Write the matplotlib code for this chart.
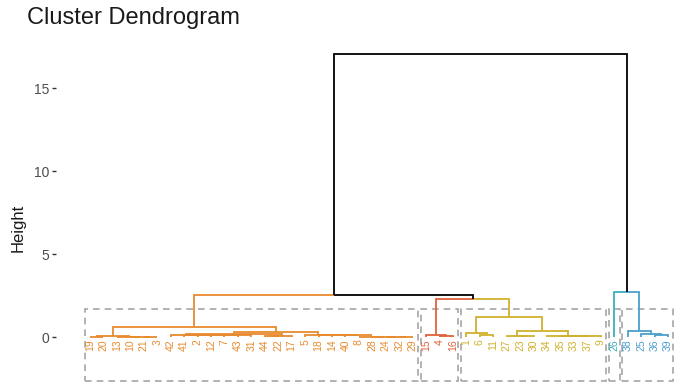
import numpy as np
import matplotlib.pyplot as plt
from matplotlib.patches import Rectangle

plt.rcParams['font.family'] = ['Liberation Sans', 'DejaVu Sans']

# leaf labels in the order they appear left to right
leaf_order = [19, 20, 13, 10, 21, 3, 42, 41, 2, 12, 7, 43, 31, 44, 22, 17, 5, 18, 14, 40,
              8, 28, 24, 32, 29, 15, 4, 16, 1, 6, 11, 27, 23, 30, 34, 35, 33, 37, 9, 26,
              38, 25, 36, 39]

# hclust style merges: negative = observation, positive = earlier merge step (1-based)
merge_a = [-21, -10, -13, -19, 4, -7, -12, 7, -2, -41, -42, -44, 12, 11, -32, -24, -28, -8,
           -40, -14, -18, -5, 14, 5, -4, -15, -6, -1, -23, -27, -35, 31, 32, -34, 30, 28,
           26, 24, -36, -25, -38, -26, 38]
merge_b = [-3, 1, 2, -20, 3, -43, 6, -31, 8, 9, 10, -22, -17, 13, -29, 15, 16, 17,
           18, 19, 20, 21, 22, 23, -16, 25, -11, 27, -30, 29, -33, -37, -9, 33, 34, 35,
           36, 37, -39, 39, 40, 41, 42]
merge_h = [0.02, 0.03, 0.04, 0.03, 0.06, 0.12, 0.13, 0.14, 0.15, 0.16, 0.17, 0.08, 0.10,
           0.20, 0.01, 0.02, 0.03, 0.04, 0.12, 0.13, 0.14, 0.16, 0.32, 0.60, 0.08, 0.14,
           0.16, 0.28, 0.05, 0.07, 0.05, 0.06, 0.07, 0.10, 0.38, 1.25, 2.30, 2.52, 0.12,
           0.22, 0.40, 2.70, 17.05]

cluster_sizes = [25, 3, 11, 1, 4]
cluster_colors = ['#E88A2E', '#E0623A', '#D1B12C', '#3AAFC0', '#4A9FCC']

# leaf positions and cluster membership
leaf_x = {lab: i + 1 for i, lab in enumerate(leaf_order)}
leaf_cl = {}
pos = 0
for k, n in enumerate(cluster_sizes):
    for lab in leaf_order[pos:pos + n]:
        leaf_cl[lab] = k
    pos += n

node_x, node_h, node_cl = {}, {}, {}


def info(c):
    if c < 0:
        return leaf_x[-c], 0.0, leaf_cl[-c]
    return node_x[c], node_h[c], node_cl[c]


fig = plt.figure(figsize=(6.85, 3.84), dpi=100)
ax = fig.add_axes([56 / 685, 0, 626 / 685, 344 / 384])

for step, (a, b, h) in enumerate(zip(merge_a, merge_b, merge_h), start=1):
    xa, ha, ca = info(a)
    xb, hb, cb = info(b)
    xm = (xa + xb) / 2
    node_x[step], node_h[step] = xm, h
    node_cl[step] = ca if (ca is not None and ca == cb) else None
    # each half of the link takes the colour of the child it leads to
    for xc, hc, cc in [(xa, ha, ca), (xb, hb, cb)]:
        col = cluster_colors[cc] if cc is not None else 'black'
        ax.plot([xm, xc, xc], [h, h, hc], color=col, lw=1.3,
                solid_joinstyle='miter', solid_capstyle='butt')

# leaf labels
for lab in leaf_order:
    ax.text(leaf_x[lab], -0.12, str(lab), rotation=90, ha='center', va='top',
            fontsize=7.5, color=cluster_colors[leaf_cl[lab]])

# dashed boxes around clusters
pos = 0
for n in cluster_sizes:
    x0 = pos + 1 - 0.4
    x1 = pos + n + 0.4
    ax.add_patch(Rectangle((x0, -2.65), x1 - x0, 4.35, fill=False,
                           ec='#A6A6A6', lw=1.2, ls=(0, (4, 3))))
    pos += n

ax.set_xlim(-1.53, 45.04)
ax.set_ylim(-2.81, 17.9)
ax.set_yticks([0, 5, 10, 15])
ax.set_xticks([])
for s in ax.spines.values():
    s.set_visible(False)
ax.tick_params(axis='y', length=3, width=1, color='#333333', labelcolor='#4D4D4D',
               labelsize=10, pad=2)

fig.text(27 / 685, 1 - 18 / 384, 'Cluster Dendrogram', fontsize=17, va='center',
         color='#1A1A1A')
fig.text(18 / 685, 1 - 228 / 384, 'Height', fontsize=12, rotation=90,
         va='center', ha='center', color='#1A1A1A')

fig.savefig('out.png', dpi=100)
